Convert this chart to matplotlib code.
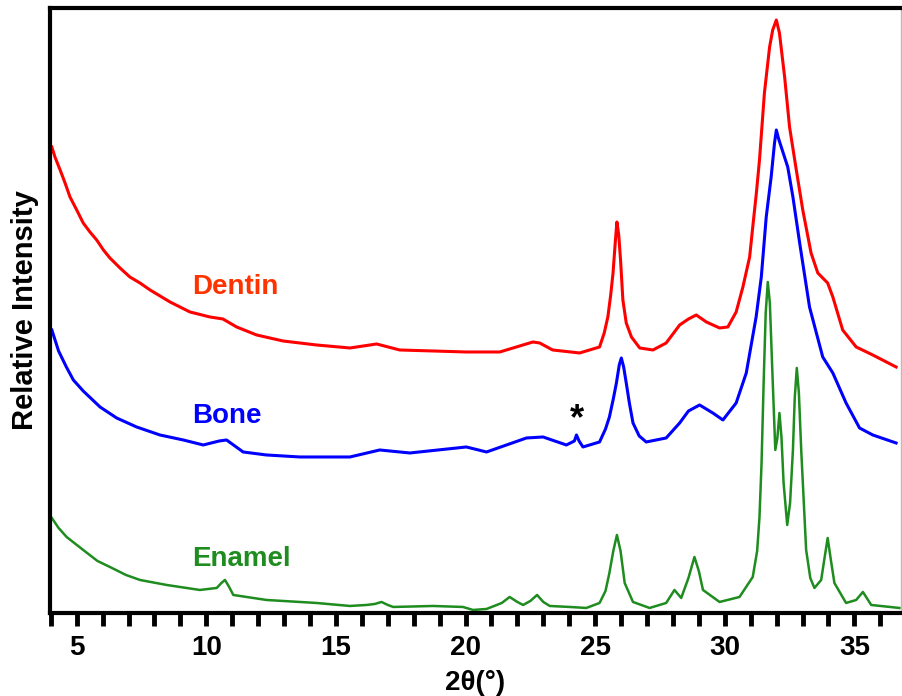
import numpy as np
import matplotlib.pyplot as plt

plt.rcParams['font.family'] = ['Liberation Sans', 'DejaVu Sans']

# XRD patterns, values (intensity in arbitrary units)
dentin_x = [4.04, 4.16, 4.36, 4.55, 4.74, 5.00, 5.25, 5.51, 5.77, 6.03, 6.28, 6.67, 7.05, 7.44,
            7.83, 8.60, 9.37, 10.14, 10.64, 11.17, 11.94, 12.96, 14.25, 15.54, 16.57, 17.46, 20.03,
            21.32, 21.96, 22.60, 22.86, 23.36, 24.40, 25.17, 25.35, 25.49, 25.60, 25.69, 25.78, 25.84,
            25.91, 25.98, 26.07, 26.20, 26.40, 26.72, 27.23, 27.74, 28.26, 28.60, 28.90, 29.29, 29.80,
            30.12, 30.44, 30.70, 30.96, 31.08, 31.22, 31.34, 31.53, 31.73, 31.85, 31.99, 32.11, 32.31,
            32.50, 32.76, 33.01, 33.33, 33.59, 33.97, 34.17, 34.55, 35.07, 35.71, 36.61]
dentin_y = [466, 456, 443, 430, 416, 403, 390, 381, 373, 363, 355, 345, 336, 330,
            323, 311, 301, 296, 294, 286, 278, 272, 268, 265, 269, 263, 261,
            261, 266, 271, 270, 263, 260, 266, 280, 296, 318, 340, 372, 391,
            378, 353, 313, 290, 276, 265, 263, 270, 288, 294, 298, 291, 285,
            286, 301, 326, 356, 386, 420, 453, 520, 566, 583, 593, 580, 536,
            486, 443, 403, 360, 340, 330, 316, 283, 266, 258, 246]

bone_x = [4.04, 4.30, 4.60, 4.87, 5.25, 5.90, 6.54, 7.31, 8.21, 9.11, 9.88, 10.50, 10.78, 11.42,
          12.32, 13.61, 14.89, 15.54, 16.69, 17.85, 20.03, 20.81, 22.35, 22.99, 23.89, 24.20, 24.28,
          24.38, 24.53, 25.17, 25.40, 25.55, 25.70, 25.82, 25.93, 26.01, 26.10, 26.20, 26.32, 26.46,
          26.70, 26.97, 27.74, 28.26, 28.60, 29.03, 29.54, 29.93, 30.44, 30.83, 31.21, 31.41, 31.60,
          31.79, 31.92, 31.99, 32.08, 32.18, 32.43, 32.63, 32.89, 33.27, 33.78, 34.17, 34.68, 35.20,
          35.71, 36.61]
bone_y = [283, 262, 246, 233, 222, 206, 195, 186, 178, 173, 168, 172, 173, 161,
          158, 156, 156, 156, 163, 160, 166, 161, 175, 176, 168, 172, 178,
          172, 166, 171, 184, 196, 214, 230, 248, 255, 246, 230, 210, 190,
          177, 171, 175, 190, 202, 208, 200, 193, 210, 240, 296, 336, 396,
          436, 470, 483, 474, 466, 446, 416, 370, 306, 256, 240, 210, 185,
          178, 170]

enamel_x = [4.04, 4.30, 4.61, 5.25, 5.80, 6.28, 6.90, 7.44, 8.47, 9.75, 10.40, 10.58, 10.72, 10.88,
            11.04, 12.32, 14.25, 15.54, 16.18, 16.50, 16.76, 17.00, 17.21, 18.75, 19.90, 20.29, 20.81,
            21.40, 21.70, 22.00, 22.22, 22.50, 22.76, 23.00, 23.25, 24.02, 24.66, 25.17, 25.40, 25.55,
            25.70, 25.84, 25.98, 26.14, 26.46, 27.10, 27.74, 28.06, 28.32, 28.60, 28.83, 29.00, 29.16,
            29.80, 30.57, 31.08, 31.25, 31.34, 31.42, 31.50, 31.58, 31.66, 31.74, 31.83, 31.95, 32.03,
            32.11, 32.19, 32.27, 32.41, 32.52, 32.63, 32.70, 32.78, 32.86, 32.95, 33.14, 33.30, 33.46,
            33.72, 33.85, 33.97, 34.10, 34.23, 34.68, 35.07, 35.33, 35.65, 36.74]
enamel_y = [95, 85, 76, 63, 52, 46, 38, 33, 28, 23, 25, 30, 33, 26,
            18, 13, 10, 7, 8, 9, 11, 8, 6, 7, 6, 3, 4,
            10, 16, 11, 8, 12, 18, 11, 7, 6, 5, 10, 22, 40,
            62, 78, 62, 30, 11, 5, 10, 23, 15, 35, 56, 42, 23,
            11, 16, 36, 62, 96, 150, 230, 300, 331, 310, 246, 163, 175,
            200, 175, 130, 88, 110, 163, 215, 245, 220, 163, 63, 35, 25,
            33, 55, 75, 52, 30, 10, 13, 21, 8, 5]

labels = ['Dentin', 'Bone', 'Enamel']
label_y = [326, 197, 54]
line_colors = ['#ff0000', '#0000ff', '#1e8c1e']
text_colors = ['#ff3300', '#0000ff', '#1e8c1e']

fig = plt.figure(figsize=(9.03, 6.96), dpi=100)
ax = fig.add_axes([0.0554, 0.1193, 0.9424, 0.8692])

ax.plot(dentin_x, dentin_y, color=line_colors[0], lw=2.2)
ax.plot(bone_x, bone_y, color=line_colors[1], lw=2.2)
ax.plot(enamel_x, enamel_y, color=line_colors[2], lw=1.8)

for name, yy, c in zip(labels, label_y, text_colors):
    ax.text(9.44, yy, name, color=c, fontsize=20, fontweight='bold', va='center', ha='left')
ax.text(24.28, 193, '*', fontsize=26, fontweight='bold', ha='center', va='center')

ax.set_xlim(3.97, 36.8)
ax.set_ylim(0, 605)
ax.set_xticks(np.arange(5, 36, 5))
ax.set_xticks(np.arange(4, 37, 1), minor=True)
ax.set_yticks([])
ax.tick_params(axis='x', which='both', direction='out', length=9, width=3.5, labelsize=20, pad=7)
for lab in ax.get_xticklabels():
    lab.set_fontweight('bold')

for s in ['left', 'bottom', 'top']:
    ax.spines[s].set_linewidth(3)
ax.spines['right'].set_linewidth(1)
ax.spines['right'].set_color('#bbbbbb')

ax.set_xlabel('2θ(°)', fontsize=20, fontweight='bold', labelpad=6)
ax.set_ylabel('Relative Intensity', fontsize=21, fontweight='bold', labelpad=8)

plt.savefig('out.png', dpi=100)
